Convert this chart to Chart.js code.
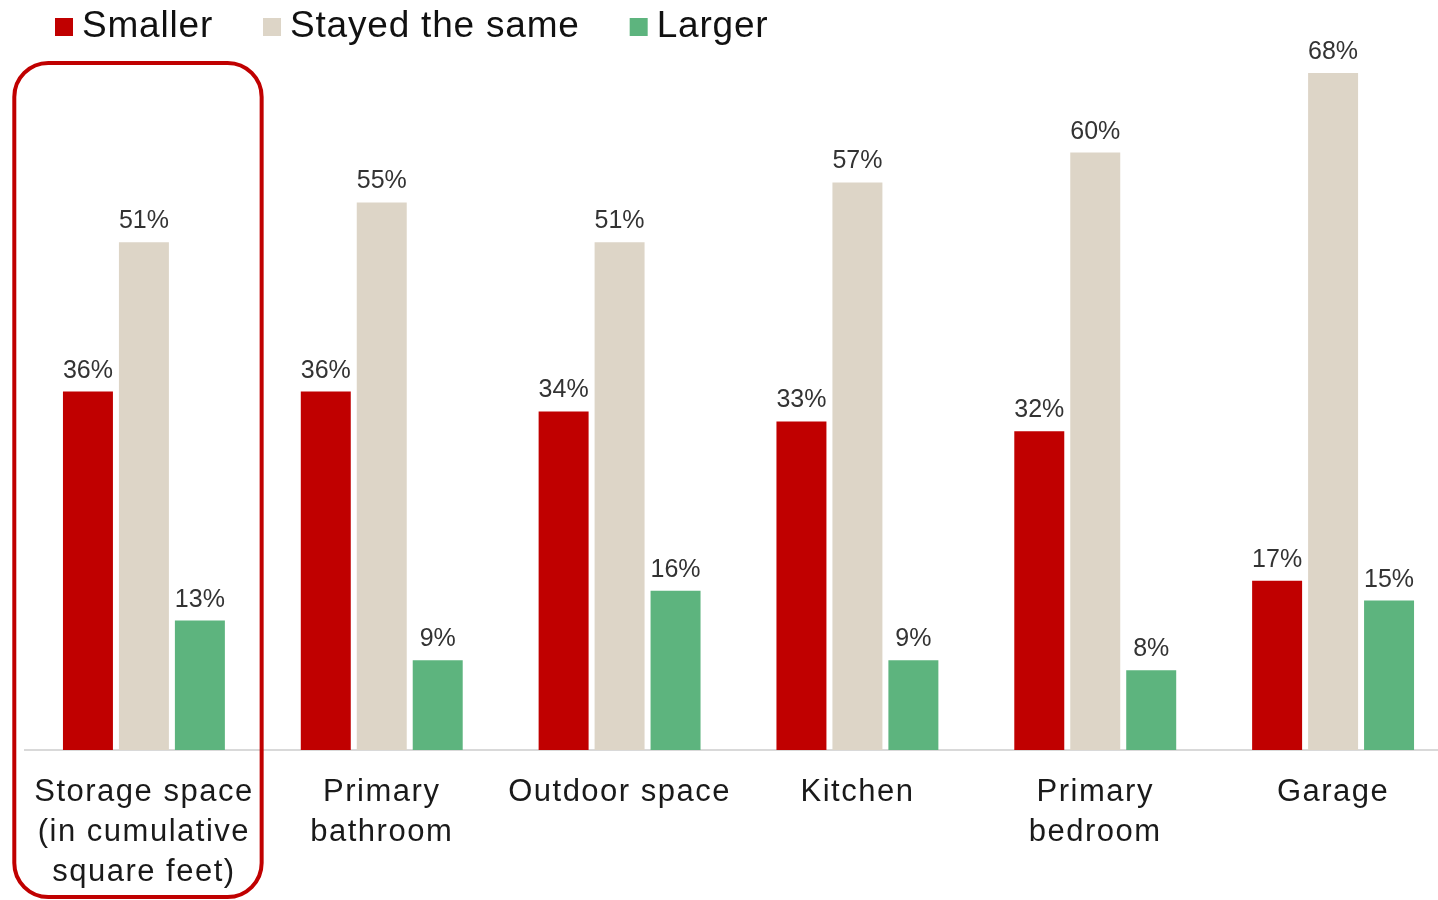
<!DOCTYPE html>
<html>
<head>
<meta charset="utf-8">
<script src="https://cdn.jsdelivr.net/npm/chart.js@4.4.1/dist/chart.umd.min.js"></script>
<style>
    html, body { margin: 0; padding: 0; background: #fff; overflow: hidden; }
    #wrap { width: 1460px; height: 915px; position: relative; }
</style>
</head>
<body>
<div id="wrap"><canvas id="roomChart"></canvas></div>
<script>
// Chart data
const categories = [
    ['Storage space', '(in cumulative', 'square feet)'],
    ['Primary', 'bathroom'],
    'Outdoor space',
    'Kitchen',
    ['Primary', 'bedroom'],
    'Garage'
];
const seriesNames = ['Smaller', 'Stayed the same', 'Larger'];
const smaller = [36, 36, 34, 33, 32, 17];
const stayedSame = [51, 55, 51, 57, 60, 68];
const larger = [13, 9, 16, 9, 8, 15];

const colors = ['#C00000', '#DDD5C7', '#5DB47E'];
const FONT = '"Liberation Sans", Arial, sans-serif';

// Wider letter spacing for the category labels
const tickSpacing = {
    id: 'tickSpacing',
    beforeDraw(chart) {
        chart.ctx.letterSpacing = '1.5px';
    },
    beforeDatasetsDraw(chart) {
        chart.ctx.letterSpacing = '0px';
    }
};

// Value labels above every bar
const barLabels = {
    id: 'barLabels',
    afterDatasetsDraw(chart) {
        const ctx = chart.ctx;
        ctx.save();
        ctx.letterSpacing = '0px';
        ctx.font = '25px ' + FONT;
        ctx.fillStyle = '#333333';
        ctx.textAlign = 'center';
        ctx.textBaseline = 'alphabetic';
        chart.data.datasets.forEach(function (ds, i) {
            chart.getDatasetMeta(i).data.forEach(function (bar, j) {
                ctx.fillText(ds.data[j] + '%', bar.x, bar.y - 14);
            });
        });
        ctx.restore();
    }
};

// Legend drawn in the top-left corner
const topLegend = {
    id: 'topLegend',
    afterDraw(chart) {
        const ctx = chart.ctx;
        ctx.save();
        ctx.letterSpacing = '0.8px';
        ctx.font = '37px ' + FONT;
        ctx.textAlign = 'left';
        ctx.textBaseline = 'middle';
        let x = 55;
        chart.data.datasets.forEach(function (ds) {
            ctx.fillStyle = ds.backgroundColor;
            ctx.fillRect(x, 18, 18, 18);
            ctx.fillStyle = '#111111';
            ctx.fillText(ds.label, x + 27, 27);
            x += 27 + ctx.measureText(ds.label).width + 50;
        });
        ctx.restore();
    }
};

// Red rounded box highlighting the first category
const highlightBox = {
    id: 'highlightBox',
    afterDraw(chart) {
        const x = chart.scales.x;
        const catW = x.width / categories.length;
        const cx = x.getPixelForValue(0);
        const left = cx - 0.545 * catW;
        const right = cx + 0.495 * catW;
        const top = 63;
        const bottom = 897;
        const ctx = chart.ctx;
        ctx.save();
        ctx.strokeStyle = '#C00000';
        ctx.lineWidth = 4;
        ctx.beginPath();
        ctx.roundRect(left, top, right - left, bottom - top, 34);
        ctx.stroke();
        ctx.restore();
    }
};

const ctx = document.getElementById('roomChart').getContext('2d');
new Chart(ctx, {
    type: 'bar',
    data: {
        labels: categories,
        datasets: [
            { label: seriesNames[0], data: smaller, backgroundColor: colors[0] },
            { label: seriesNames[1], data: stayedSame, backgroundColor: colors[1] },
            { label: seriesNames[2], data: larger, backgroundColor: colors[2] }
        ]
    },
    options: {
        responsive: true,
        maintainAspectRatio: false,
        animation: false,
        datasets: {
            bar: { categoryPercentage: 0.706, barPercentage: 0.893 }
        },
        layout: {
            padding: { left: 25, right: 8, top: 65, bottom: 0 }
        },
        plugins: {
            legend: { display: false },
            tooltip: { enabled: false }
        },
        scales: {
            x: {
                grid: { display: false, drawTicks: false },
                border: { display: true, color: '#D9D9D9', width: 2 },
                ticks: {
                    color: '#1a1a1a',
                    padding: 23,
                    maxRotation: 0,
                    autoSkip: false,
                    font: { size: 31, family: FONT, lineHeight: 1.28 }
                }
            },
            y: {
                display: false,
                min: 0,
                max: 68.8
            }
        }
    },
    plugins: [tickSpacing, barLabels, topLegend, highlightBox]
});
</script>
</body>
</html>
